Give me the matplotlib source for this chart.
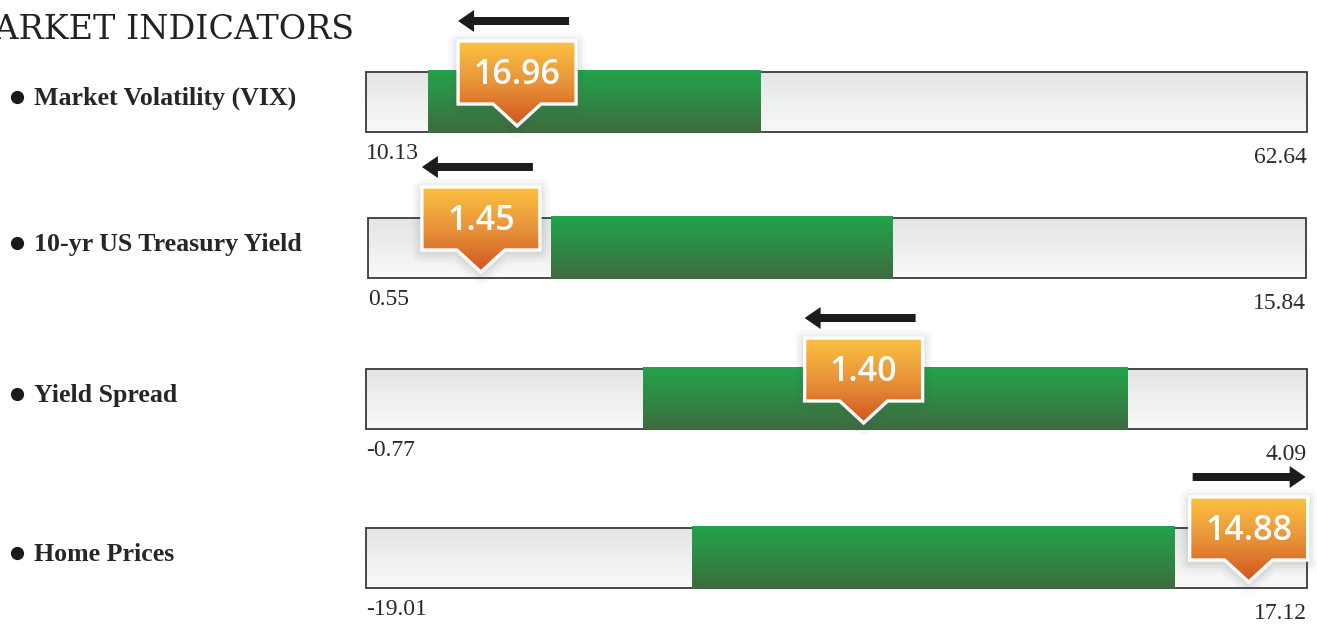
import numpy as np
import matplotlib
matplotlib.use("Agg")
import matplotlib.pyplot as plt
from matplotlib.path import Path
from matplotlib.patches import PathPatch, Rectangle, FancyArrow
from matplotlib.colors import LinearSegmentedColormap

# ---------------- data ----------------
title = "MARKET INDICATORS"
indicators = ["Market Volatility (VIX)", "10-yr US Treasury Yield", "Yield Spread", "Home Prices"]
range_min = [10.13, 0.55, -0.77, -19.01]
range_max = [62.64, 15.84, 4.09, 17.12]
band_low = [13.59, 3.53, 0.66, -6.49]
band_high = [32.12, 9.09, 3.16, 12.05]
current_labels = ["16.96", "1.45", "1.40", "14.88"]
pointer_at = [18.56, 2.39, 1.80, 14.88]
trend = [-1, -1, -1, 1]
min_labels = ["10.13", "0.55", "-0.77", "-19.01"]
max_labels = ["62.64", "15.84", "4.09", "17.12"]

# ---------------- layout ----------------
W, H = 1317, 630
fig = plt.figure(figsize=(W / 100, H / 100), dpi=100)
fig.patch.set_facecolor("white")

bar_tops = [72, 218, 369, 528]
bar_lefts = [366, 368, 366, 366]
bar_rights = [1307, 1306, 1307, 1307]
bar_h = 60

gray_cmap = LinearSegmentedColormap.from_list("g", ["#e3e4e6", "#f9f9f9"])
green_cmap = LinearSegmentedColormap.from_list("gr", ["#22a34b", "#2f8a45", "#3f6a40"])
orange_cmap = LinearSegmentedColormap.from_list("o", ["#fcc241", "#e8923a", "#d0541f"])
grad = np.linspace(0, 1, 256).reshape(-1, 1)

ov = fig.add_axes([0, 0, 1, 1], zorder=10)
ov.set_xlim(0, W)
ov.set_ylim(H, 0)
ov.axis("off")
ov.patch.set_alpha(0)

serif = ["Liberation Serif", "DejaVu Serif"]

# title (its first letter runs off the left edge, as in the original)
ov.text(354, 39, title, ha="right", va="baseline", fontsize=24,
        family="DejaVu Serif", color="#222222")

for i in range(4):
    top = bar_tops[i]
    bl, br = bar_lefts[i], bar_rights[i]
    ax = fig.add_axes([bl / W, 1 - (top + bar_h) / H, (br - bl) / W, bar_h / H])
    mn, mx = range_min[i], range_max[i]
    ax.imshow(grad, extent=(mn, mx, 0, 1), aspect="auto", cmap=gray_cmap,
              origin="upper", zorder=1)
    ax.add_patch(Rectangle((mn, 0), mx - mn, 1, fill=False, ec="#3a3a3a",
                           lw=1.3, zorder=2, clip_on=False))
    ax.imshow(grad, extent=(band_low[i], band_high[i], -0.02, 1.02), aspect="auto",
              cmap=green_cmap, origin="upper", zorder=3, clip_on=False)
    ax.set_xlim(mn, mx)
    ax.set_ylim(0, 1)
    ax.axis("off")

    bottom = top + bar_h
    centre = top + bar_h / 2

    # left label
    ov.plot(16.5, centre - 5, "o", ms=8.5, color="#1a1a1a")
    ov.text(34, centre + 3, indicators[i], ha="left", va="baseline",
            fontsize=18.6, fontweight="bold", family=serif, color="#262626")

    # min / max labels
    ov.text(bl, bottom + 27, min_labels[i], ha="left", va="baseline",
            fontsize=17, family=serif, color="#2a2a2a")
    ov.text(br, bottom + 31, max_labels[i], ha="right", va="baseline",
            fontsize=17, family=serif, color="#2a2a2a")

    # marker callout
    disp = ax.transData.transform((pointer_at[i], 0))
    px = ov.transData.inverted().transform(disp)[0]
    tip = bottom - 6
    B = tip - 22
    T = B - 63
    L, R = px - 59, px + 59
    verts = [(L, T), (R, T), (R, B), (px + 24, B), (px, tip), (px - 24, B),
             (L, B), (L, T)]
    codes = [Path.MOVETO] + [Path.LINETO] * 6 + [Path.CLOSEPOLY]
    path = Path(verts, codes)
    for lw, a in [(14, 0.04), (9, 0.05), (5, 0.06)]:
        ov.add_patch(PathPatch(Path([(x, y + 2) for x, y in verts], codes),
                               fc="none", ec="#555555", lw=lw, alpha=a,
                               joinstyle="round", zorder=11))
    fill = PathPatch(path, fc="none", ec="none", zorder=12)
    ov.add_patch(fill)
    im = ov.imshow(grad, extent=(L, R, tip, T), aspect="auto", cmap=orange_cmap,
                   origin="upper", zorder=12)
    im.set_clip_path(fill)
    ov.add_patch(PathPatch(path, fc="none", ec="white", lw=2.4, zorder=13))
    ov.text(px, B - 20, current_labels[i], ha="center", va="baseline",
            fontsize=24.5, fontweight="semibold", family="Open Sans",
            color="white", zorder=14)

    # trend arrow
    ay = T - 20
    if trend[i] < 0:
        x0, x1 = R - 7, L
    else:
        x0, x1 = L + 3, R - 2
    ov.add_patch(FancyArrow(x0, ay, x1 - x0, 0, width=8, head_width=22,
                            head_length=16, length_includes_head=True,
                            color="#1c1c1c", lw=0, zorder=14))

ov.set_xlim(0, W)
ov.set_ylim(H, 0)

fig.savefig("out.png", dpi=100, facecolor="white")
